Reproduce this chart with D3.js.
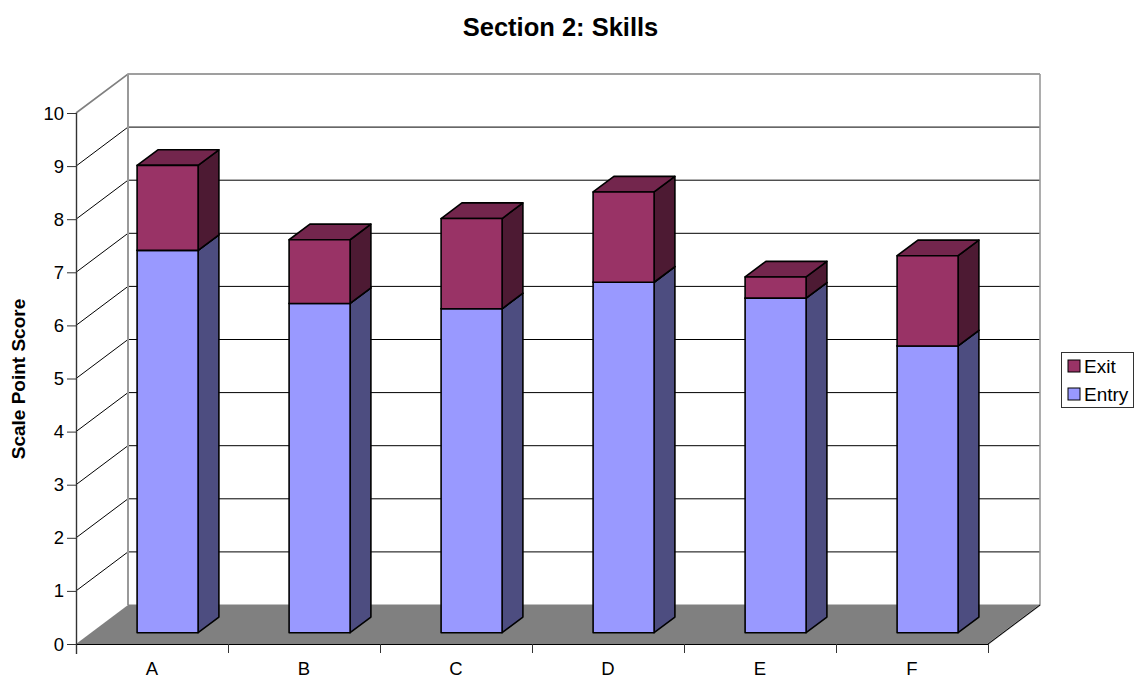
<!DOCTYPE html>
<html><head><meta charset="utf-8">
<script src="https://cdnjs.cloudflare.com/ajax/libs/d3/7.8.5/d3.min.js"></script>
<style>html,body{margin:0;padding:0;background:#fff}svg{display:block}text{font-family:"Liberation Sans",Arial,sans-serif;fill:#000}</style>
</head><body><svg id="c" width="1136" height="675"></svg>
<script>
const categories=["A","B","C","D","E","F"];
const entry=[7.2,6.2,6.1,6.6,6.3,5.4];
const exit=[1.6,1.2,1.7,1.7,0.4,1.7];
const yTicks=[0,1,2,3,4,5,6,7,8,9,10];
const seriesNames=["Exit","Entry"];
const colors={Entry:{front:"#9999ff",side:"#4d4d80",top:"#7a7acc"},Exit:{front:"#993366",side:"#4d1a33",top:"#73264d"}};

const svg=d3.select("#c");
const L=76,R=988,Y0=644,Y10=113,DX=52,DY=-39;
const x=d3.scaleBand().domain(categories).range([L,R]);
const y=d3.scaleLinear().domain([0,10]).range([Y0,Y10]);
const p=(px,py,t)=>[px+DX*t,py+DY*t];
const poly=pts=>"M"+pts.map(q=>q.join(",")).join("L")+"Z";

// walls and floor
svg.append("path").attr("d",poly([p(L,Y0,0),p(R,Y0,0),p(R,Y0,1),p(L,Y0,1)])).attr("fill","#808080");
svg.append("g").selectAll("path").data(yTicks.slice(1)).join("path")
  .attr("d",d=>{const a=p(L,y(d),0),b=p(L,y(d),1),c=p(R,y(d),1);return `M${a}L${b}L${c}`;})
  .attr("fill","none").attr("stroke",d=>d===10?"#808080":"#000").attr("stroke-width",d=>d===10?1.6:1);
const wall=[p(L,Y0,1),p(L,y(10),1)];
svg.append("path").attr("d",`M${wall[0]}L${wall[1]}`).attr("stroke","#999").attr("stroke-width",2).attr("fill","none");
svg.append("path").attr("d",`M${p(R,Y0,0)}L${p(R,Y0,1)}L${p(R,y(10),1)}`).attr("stroke","#999").attr("stroke-width",1.6).attr("fill","none");
svg.append("path").attr("d",`M${p(R,Y0,1)}L${p(L,Y0,1)}`).attr("stroke","#808080").attr("fill","none");
svg.append("path").attr("d",`M${p(R,Y0,0)}L${p(R,Y0,1)}`).attr("stroke","#000").attr("stroke-width",1).attr("fill","none");

// axes
svg.append("path").attr("d",`M${L+.5},${y(10)}V${Y0+10}`).attr("stroke","#333").attr("stroke-width",1.4).attr("fill","none");
svg.append("path").attr("d",`M${L},${Y0+.5}H${R}`).attr("stroke","#000").attr("stroke-width",1.2).attr("fill","none");
const yg=svg.append("g").selectAll("g").data(yTicks).join("g");
yg.append("line").attr("x1",L-9).attr("x2",L).attr("y1",d=>y(d)+.5).attr("y2",d=>y(d)+.5).attr("stroke","#333");
yg.append("text").attr("x",L-12).attr("y",d=>y(d)+6.5).attr("text-anchor","end").attr("font-size",18.5).text(d=>d);
const xEdges=categories.map(c=>x(c)).concat([R]);
svg.append("g").selectAll("line").data(xEdges).join("line")
  .attr("x1",d=>d+.5).attr("x2",d=>d+.5).attr("y1",Y0).attr("y2",Y0+9).attr("stroke","#333");
svg.append("g").selectAll("text").data(categories).join("text")
  .attr("x",d=>x(d)+x.bandwidth()/2).attr("y",Y0+31).attr("text-anchor","middle").attr("font-size",18.5).text(d=>d);

// bars
const T0=0.3,T1=0.7,barW=61;
const stacks=[{n:"Entry",lo:()=>0,hi:i=>entry[i]},{n:"Exit",lo:i=>entry[i],hi:i=>entry[i]+exit[i]}];
categories.forEach((c,i)=>{
  const cx=x(c)+x.bandwidth()/2, x0=cx-barW/2, x1=cx+barW/2;
  stacks.forEach(s=>{
    const yl=y(s.lo(i))+.4, yh=y(s.hi(i))+.4, col=colors[s.n];
    const g=svg.append("g").attr("stroke","#000").attr("stroke-width",1.6).attr("stroke-linejoin","round");
    g.append("path").attr("fill",col.side).attr("d",poly([p(x1,yl,T0),p(x1,yl,T1),p(x1,yh,T1),p(x1,yh,T0)]));
    g.append("path").attr("fill",col.top).attr("d",poly([p(x0,yh,T0),p(x1,yh,T0),p(x1,yh,T1),p(x0,yh,T1)]));
    g.append("path").attr("fill",col.front).attr("d",poly([p(x0,yl,T0),p(x1,yl,T0),p(x1,yh,T0),p(x0,yh,T0)]));
  });
});

// title and axis title
svg.append("text").attr("x",560.5).attr("y",36).attr("text-anchor","middle").attr("font-size",25.5).attr("font-weight","bold").text("Section 2: Skills");
svg.append("text").attr("transform","translate(25,379) rotate(-90)").attr("text-anchor","middle").attr("font-size",19).attr("font-weight","bold").text("Scale Point Score");

// legend
svg.append("rect").attr("x",1061.5).attr("y",352.5).attr("width",72).attr("height",55).attr("fill","#fff").attr("stroke","#333");
const lg=svg.append("g").selectAll("g").data(seriesNames).join("g").attr("transform",(d,i)=>`translate(0,${i*28})`);
lg.append("rect").attr("x",1068).attr("y",360).attr("width",12).attr("height",12).attr("fill",d=>colors[d].front).attr("stroke","#000");
lg.append("text").attr("x",1084).attr("y",373).attr("font-size",19).text(d=>d);
</script></body></html>
